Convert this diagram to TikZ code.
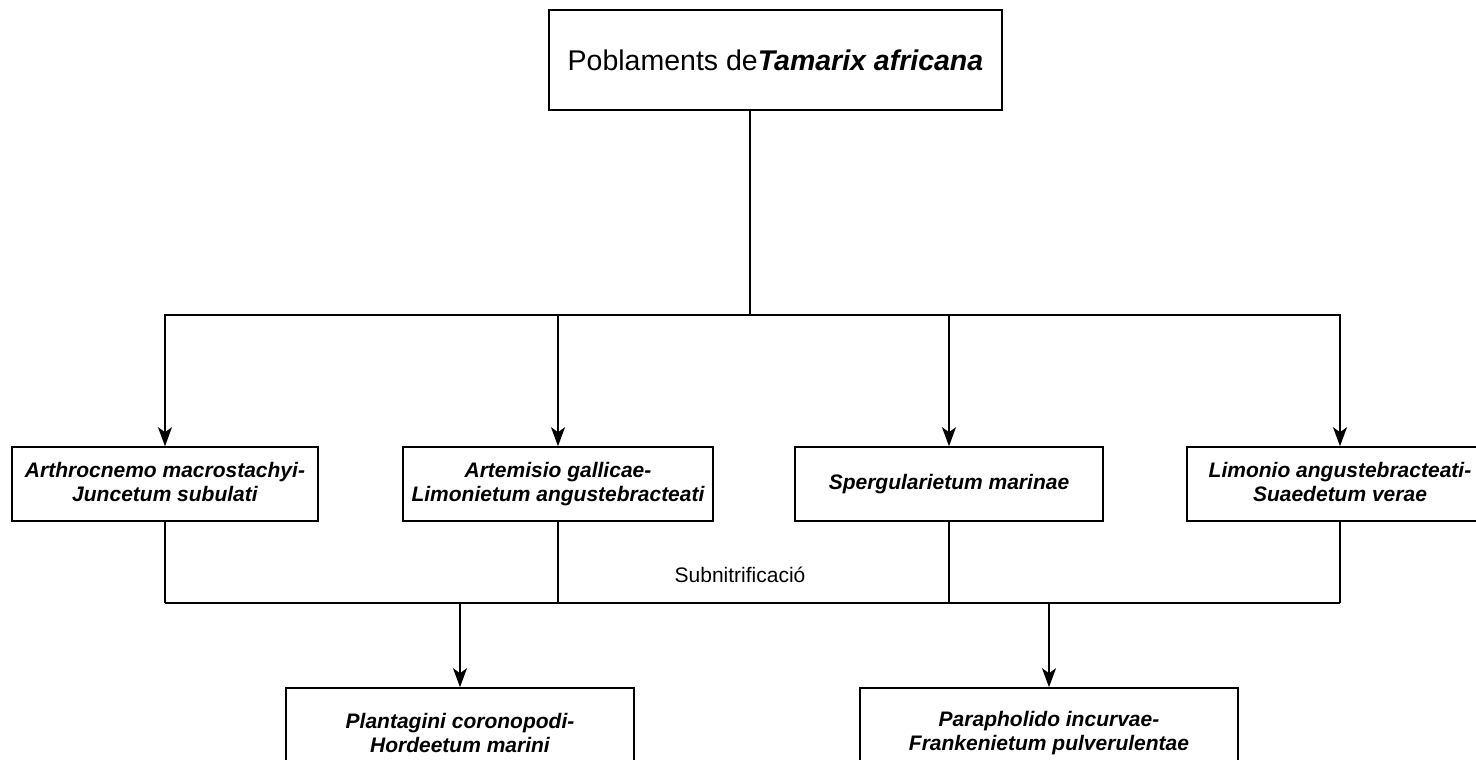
\documentclass[tikz,border=0pt]{standalone}
\usepackage{fontspec}
\setmainfont{Liberation Sans}
\usetikzlibrary{arrows.meta,calc}
\tikzset{
  box/.style={draw=black, line width=1.6pt, fill=white, rectangle, align=center, inner sep=0pt,
    font=\fontsize{21}{23.5}\selectfont\bfseries\itshape},
  conn/.style={draw=black, line width=1.6pt},
  arr/.style={conn, -{Stealth[length=19pt,width=14pt,inset=5pt]}},
}
\begin{document}
\begin{tikzpicture}[x=1pt,y=-1pt]
\useasboundingbox (0,0) rectangle (1476,760);
\fill[white] (0,0) rectangle (1476,760);
\node[box, minimum width=453pt, minimum height=100pt, font=\fontsize{28.5}{31}\selectfont] (top) at (775.5,60) {\raisebox{-4pt}{Poblaments de\textbf{\textit{Tamarix africana}}}};
\node[box, minimum width=306pt, minimum height=74pt] (A) at (165,484) {\raisebox{4pt}{\shortstack{Arthrocnemo macrostachyi-\\[1pt]Juncetum subulati}}};
\node[box, minimum width=310pt, minimum height=74pt] (B) at (558,484) {\raisebox{4pt}{\shortstack{Artemisio gallicae-\\[1pt]Limonietum angustebracteati}}};
\node[box, minimum width=308pt, minimum height=74pt] (C) at (949,484) {\raisebox{4pt}{Spergularietum marinae}};
\node[box, minimum width=306pt, minimum height=74pt] (D) at (1340,484) {\raisebox{4pt}{\shortstack{Limonio angustebracteati-\\[1pt]Suaedetum verae}}};
\node[box, minimum width=348pt, minimum height=90pt] (P) at (460,733) {Plantagini coronopodi-\\Hordeetum marini};
\node[box, minimum width=378pt, minimum height=90pt] (Q) at (1049,733) {Parapholido incurvae-\\Frankenietum pulverulentae};
\coordinate (hub) at (750,315);
\coordinate (bus) at (750,603);
\draw[conn] (hub |- top.south) -- (hub);
\draw[arr] (hub) -| (A);
\draw[arr] (hub) -| (B);
\draw[arr] (hub) -| (C);
\draw[arr] (hub) -| (D);
\draw[conn] (A.south) -- (A.south |- bus);
\draw[conn] (B.south) -- (B.south |- bus);
\draw[conn] (C.south) -- (C.south |- bus);
\draw[conn] (D.south) -- (D.south |- bus);
\draw[conn] (A.south |- bus) -- (D.south |- bus);
\draw[arr] (P.north |- bus) -- (P.north);
\draw[arr] (Q.north |- bus) -- (Q.north);
\node[font=\fontsize{21}{24}\selectfont] (lab) at (740,575) {Subnitrificació};
\end{tikzpicture}
\end{document}
